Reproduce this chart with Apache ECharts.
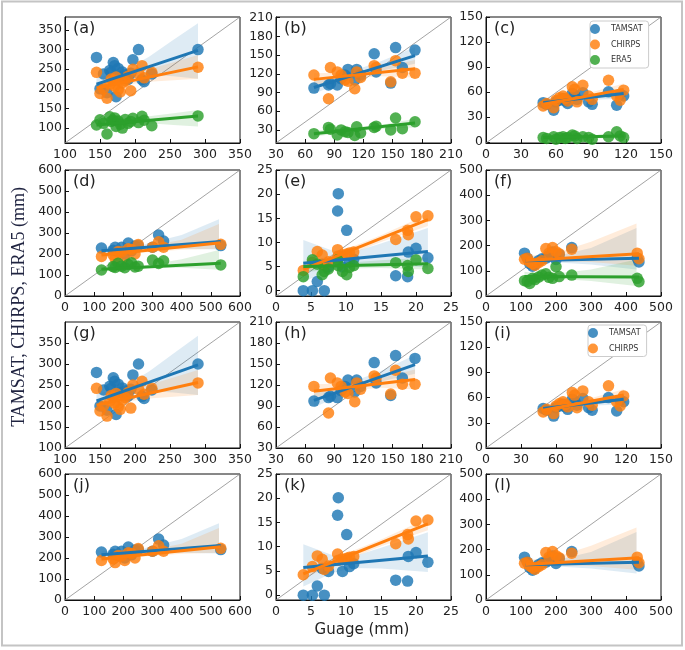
<!DOCTYPE html>
<html><head><meta charset="utf-8">
<script src="https://cdn.jsdelivr.net/npm/echarts@6/dist/echarts.min.js"></script>
<style>html,body{margin:0;padding:0;background:#fff}#chart{width:685px;height:650px}</style>
</head><body><div id="chart"></div>
<script>
// ---------------- DATA ----------------
const products = ['TAMSAT', 'CHIRPS', 'ERA5'];
const panelLabels = ['(a)','(b)','(c)','(d)','(e)','(f)','(g)','(h)','(i)','(j)','(k)','(l)'];

// tick label values
const ticksA = [100,150,200,250,300,350];
const ticksB = [30,60,90,120,150,180,210];
const ticksC = [0,30,60,90,120,150];
const ticksD = [0,100,200,300,400,500,600];
const ticksE = [0,5,10,15,20,25];
const ticksF = [0,100,200,300,400,500];

// Station A  (panels a, g)
const gaugeA  = [145,150,155,160,164,166,169,171,173,176,179,182,186,190,194,197,205,210,213,224,290];
const tamsatA = [280,200,238,190,247,242,267,259,180,252,232,243,236,224,240,274,300,223,218,238,300];
const chirpsA = [242,188,200,176,212,225,222,207,230,198,192,215,220,232,195,250,240,259,228,242,255];
const era5A   = [108,121,112, 85,129,117,120,126,104,118,110,100,122,112,117,125,114,130,120,106,131];
// Station B  (panels b, h)
const gaugeB  = [69,84,86,93,97,101,104,111,113,117,131,133,148,153,160,173];
const tamsatB = [97,102,104,102,112,118,127,110,127,118,152,123,105,162,130,158];
const chirpsB = [118,80,130,123,118,110,108,96,123,114,133,130,107,141,121,121];
const era5B   = [24,34,31,22,30,27,26,21,35,25,34,36,30,49,32,43];
// Station C  (panels c, i)
const gaugeC  = [49,52,58,60,63,66,68,70,74,76,78,83,88,91,105,112,115,118];
const tamsatC = [47,45,38,48,50,52,49,46,58,56,51,59,48,45,60,44,57,55];
const chirpsC = [43,46,41,50,53,55,52,49,66,63,48,68,55,51,74,55,50,62];
const era5C   = [5,4,6,3,5,6,4,5,8,7,4,6,5,3,6,12,7,5];
// Station D  (panels d, j)
const gaugeD  = [125,165,172,182,194,205,217,228,240,251,300,321,338,534];
const tamsatD = [228,218,232,212,232,200,252,215,238,240,232,290,262,240];
const chirpsD = [188,195,178,212,210,188,225,222,200,245,232,258,232,246];
const era5D   = [124,140,136,156,142,135,150,158,138,142,171,155,168,148];
// Station E  (panels e, k)
const gaugeE  = [3.9,5.2,5.9,6.6,6.9,7.5,8.8,8.9,9.5,10.1,10.5,11.1,17.1,18.8,18.9,20.0,21.7];
const tamsatE = [0,0,1.9,5.5,0,4.9,16.5,20.1,4.9,12.5,5.9,6.5,3.1,2.9,8.0,8.8,6.8];
const chirpsE = [4.2,5.9,8.1,7.4,5.3,6.0,8.5,7.2,7.4,7.6,7.8,8.0,10.6,12.5,11.6,15.3,15.5];
const era5E   = [2.9,6.4,5.5,3.3,4.0,4.5,6.4,5.2,4.0,3.3,4.8,5.2,5.8,5.2,4.0,6.4,4.6];
// Station F  (panels f, l)
const gaugeF  = [110,118,125,133,140,150,160,171,180,190,200,209,245,432,437];
const tamsatF = [170,150,128,118,125,140,148,150,160,175,145,165,192,150,135];
const chirpsF = [146,150,135,128,122,132,140,188,170,192,176,168,186,170,148];
const era5F   = [61,58,50,70,65,75,83,88,74,70,116,77,83,70,57];

// regression lines: [x0, y0, x1, y1] for TAMSAT, CHIRPS, ERA5
const fitA = [[145,212,290,298],[145,202,290,256],[145,108,290,131]];
const fitB = [[69,98,173,149],[69,111,173,128],[69,24,173,41]];
const fitC = [[49,47,118,58],[49,45,118,63],[49,5,118,7]];
const fitD = [[125,216,534,259],[125,195,534,254],[125,127,534,156]];
const fitE = [[3.9,5.7,21.7,8.1],[3.9,4.4,21.7,14.7],[3.9,5.0,21.7,5.6]];
const fitF = [[112,140,437,150],[112,141,437,168],[110,77,437,75]];

// confidence bands: [x, lower, upper]
const bandA = [
  [[145,195,228],[185,228,247],[220,236,282],[255,232,325],[290,226,367]],
  [[145,188,214],[185,210,228],[220,218,250],[255,222,268],[290,226,286]],
  [[145,102,114],[185,112,120],[220,112,130],[255,108,138],[290,104,146]]];
const bandB = [
  [[69,88,108],[104,110,122],[138,125,140],[173,136,163]],
  [[69,102,121],[104,112,122],[138,116,130],[173,114,142]],
  [[69,19,29],[104,27,33],[138,31,38],[173,34,48]]];
const bandC = [
  [[49,42,52],[84,50,55],[118,52,64]],
  [[49,40,50],[84,51,57],[118,56,70]],
  [[49,2,8],[84,5,7],[118,3,11]]];
const bandD = [
  [[125,200,232],[260,224,242],[400,225,290],[528,222,365]],
  [[125,180,210],[260,206,228],[400,220,268],[528,225,343]],
  [[125,115,139],[260,133,142],[400,135,175],[528,125,219]]];
const bandE = [
  [[3.9,1.8,10.5],[8,4.5,8.3],[11,5.6,8.0],[15,5.5,9.8],[21.7,4.8,13.0]],
  [[3.9,3.5,5.3],[10,7.2,8.6],[15,10.1,11.5],[21.7,13.4,15.9]],
  [[3.9,3.8,6.2],[10,4.6,5.8],[15,4.7,6.3],[21.7,4.4,6.9]]];
const bandF = [
  [[112,118,160],[180,135,152],[300,125,190],[430,105,270]],
  [[112,122,162],[180,140,162],[300,135,215],[430,120,288]],
  [[110,58,96],[180,70,85],[300,60,105],[430,40,145]]];

// ---------------- BUILD ----------------
const stations = {
  A: {gauge: gaugeA, values: [tamsatA, chirpsA, era5A], fit: fitA, band: bandA},
  B: {gauge: gaugeB, values: [tamsatB, chirpsB, era5B], fit: fitB, band: bandB},
  C: {gauge: gaugeC, values: [tamsatC, chirpsC, era5C], fit: fitC, band: bandC},
  D: {gauge: gaugeD, values: [tamsatD, chirpsD, era5D], fit: fitD, band: bandD},
  E: {gauge: gaugeE, values: [tamsatE, chirpsE, era5E], fit: fitE, band: bandE},
  F: {gauge: gaugeF, values: [tamsatF, chirpsF, era5F], fit: fitF, band: bandF}
};
const panels = [
  {st:'A', n:3, x:[100,350], y:[62,383],   xt:ticksA, yt:ticksA},
  {st:'B', n:3, x:[30,210],  y:[9,211],    xt:ticksB, yt:ticksB},
  {st:'C', n:3, x:[0,150],   y:[-1.5,150], xt:ticksC, yt:ticksC},
  {st:'D', n:3, x:[0,600],   y:[0,600],    xt:ticksD, yt:ticksD},
  {st:'E', n:3, x:[0,25],    y:[-1.1,25],  xt:ticksE, yt:ticksE},
  {st:'F', n:3, x:[0,500],   y:[0,500],    xt:ticksF, yt:ticksF},
  {st:'A', n:2, x:[100,350], y:[100,400],  xt:ticksA, yt:ticksA},
  {st:'B', n:2, x:[30,210],  y:[30,210],   xt:ticksB, yt:ticksB},
  {st:'C', n:2, x:[0,150],   y:[0,150],    xt:ticksC, yt:ticksC},
  {st:'D', n:2, x:[0,600],   y:[0,600],    xt:ticksD, yt:ticksD},
  {st:'E', n:2, x:[0,25],    y:[-1,25],    xt:ticksE, yt:ticksE},
  {st:'F', n:2, x:[0,500],   y:[0,500],    xt:ticksF, yt:ticksF}
];
const colors = ['#1f77b4', '#ff7f0e', '#2ca02c'];
const colLeft = [65, 276, 486];
const rowTop = [17, 170, 322, 474];
const GW = 175, GH = 126;
const tickFont = 'DejaVu Sans';

const grid = [], xAxis = [], yAxis = [], series = [], graphic = [];
panels.forEach((p, i) => {
  const left = colLeft[i % 3], top = rowTop[Math.floor(i / 3)];
  grid.push({left, top, width: GW, height: GH, show: true, borderColor: '#111', borderWidth: 1,
    backgroundColor: '#fff', containLabel: false, outerBoundsMode: 'none'});
  const axisCommon = {
    type: 'value', gridIndex: i, splitLine: {show: false},
    axisLine: {show: true, onZero: false, lineStyle: {color: '#111', width: 1}},
  };
  xAxis.push(Object.assign({}, axisCommon, {
    min: p.x[0], max: p.x[1],
    axisTick: {inside: true, length: 4, customValues: p.xt, lineStyle: {color: '#111'}},
    axisLabel: {customValues: p.xt, margin: 5, fontSize: 12.5, color: '#222', fontFamily: tickFont,
      showMinLabel: true, showMaxLabel: true, hideOverlap: false}
  }));
  yAxis.push(Object.assign({}, axisCommon, {
    min: p.y[0], max: p.y[1],
    axisTick: {inside: true, length: 4, customValues: p.yt, lineStyle: {color: '#111'}},
    axisLabel: {customValues: p.yt, margin: 3, fontSize: 12.5, color: '#222', fontFamily: tickFont,
      showMinLabel: true, showMaxLabel: true, hideOverlap: false}
  }));
  // corner-to-corner reference line
  series.push({type: 'line', xAxisIndex: i, yAxisIndex: i, silent: true, showSymbol: false,
    data: [[p.x[0], p.y[0]], [p.x[1], p.y[1]]], lineStyle: {color: '#8c8c8c', width: 0.8}, z: 1});
  const st = stations[p.st];
  for (let k = 0; k < p.n; k++) {
    const vals = st.values[k];
    series.push({type: 'scatter', name: products[k], xAxisIndex: i, yAxisIndex: i,
      symbol: 'circle', symbolSize: 11.5, itemStyle: {color: colors[k], opacity: 0.82},
      data: st.gauge.map((g, j) => [g, vals[j]])});
    const band = st.band[k];
    series.push({type: 'custom', xAxisIndex: i, yAxisIndex: i, silent: true,
      data: band.map(b => [b[0], b[1], b[2]]),
      encode: {x: 0, y: [1, 2]},
      renderItem: (params, api) => {
        if (params.dataIndex !== 0) return null;
        const up = band.map(b => api.coord([b[0], b[2]]));
        const lo = band.map(b => api.coord([b[0], b[1]])).reverse();
        return {type: 'polygon', shape: {points: up.concat(lo), smooth: 0},
          style: {fill: colors[k], opacity: 0.15}};
      }});
    const f = st.fit[k];
    series.push({type: 'line', xAxisIndex: i, yAxisIndex: i, silent: true, showSymbol: false,
      data: [[f[0], f[1]], [f[2], f[3]]], lineStyle: {color: colors[k], width: 3}});
  }
  graphic.push({type: 'text', x: left + 8, y: top + 4, silent: true,
    style: {text: panelLabels[i], font: '16px "DejaVu Sans"', fill: '#222', textVerticalAlign: 'top'}});
});

graphic.push({type: 'rect', silent: true, z: -10,
  shape: {x: 2, y: 1.5, width: 680, height: 644},
  style: {fill: 'none', stroke: '#c4c4c4', lineWidth: 2}});
graphic.push({type: 'text', silent: true, x: 19, y: 307, rotation: Math.PI / 2,
  style: {text: 'TAMSAT, CHIRPS, ERA5 (mm)', font: '18px "Liberation Serif"', fill: '#1f2340',
    textAlign: 'center', textVerticalAlign: 'middle'}});
graphic.push({type: 'text', silent: true, x: 362, y: 630,
  style: {text: 'Guage (mm)', font: '15px "DejaVu Sans"', fill: '#222',
    textAlign: 'center', textVerticalAlign: 'middle'}});

const legendCommon = {orient: 'vertical', itemWidth: 22, itemHeight: 10, itemGap: 5.5,
  icon: 'circle', backgroundColor: '#fff', borderColor: '#ccc', borderWidth: 1, borderRadius: 3,
  padding: [3, 6, 3, 0], selectedMode: false,
  textStyle: {fontSize: 8, color: '#333', fontFamily: tickFont}};
const legend = [
  Object.assign({}, legendCommon, {left: 590, top: 21, data: ['TAMSAT', 'CHIRPS', 'ERA5']}),
  Object.assign({}, legendCommon, {left: 588, top: 325, data: ['TAMSAT', 'CHIRPS']})
];

const chart = echarts.init(document.getElementById('chart'), null, {renderer: 'canvas'});
chart.setOption({animation: false, backgroundColor: '#fff', grid, xAxis, yAxis, series, graphic, legend});
</script></body></html>
